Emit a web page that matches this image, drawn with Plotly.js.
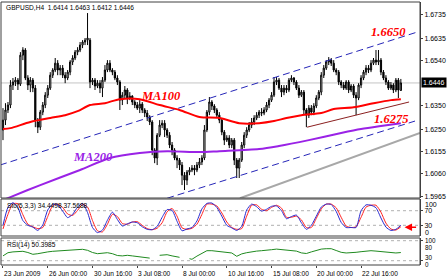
<!DOCTYPE html>
<html><head><meta charset="utf-8">
<script src="https://cdn.plot.ly/plotly-3.0.1.min.js"></script>
<style>html,body{margin:0;padding:0;background:#fff}#chart{width:448px;height:280px}</style>
</head><body><div id="chart"></div>
<script>
// ---------- DATA ----------
const barOpen=[1.6246,1.6288,1.6331,1.6352,1.6437,1.6450,1.6458,1.6441,1.6564,1.6586,
1.6467,1.6437,1.6458,1.6424,1.6280,1.6258,1.6322,1.6352,1.6394,1.6424,
1.6479,1.6501,1.6530,1.6501,1.6509,1.6479,1.6467,1.6492,1.6535,1.6552,
1.6577,1.6586,1.6607,1.6620,1.6628,1.6628,1.6450,1.6458,1.6433,1.6445,
1.6424,1.6458,1.6501,1.6530,1.6501,1.6492,1.6467,1.6450,1.6373,1.6394,
1.6416,1.6382,1.6390,1.6365,1.6352,1.6339,1.6356,1.6331,1.6318,1.6301,
1.6280,1.6161,1.6127,1.6224,1.6267,1.6275,1.6246,1.6224,1.6182,1.6161,
1.6127,1.6118,1.6097,1.6054,1.6033,1.6067,1.6076,1.6084,1.6076,1.6097,
1.6110,1.6127,1.6246,1.6322,1.6365,1.6348,1.6331,1.6309,1.6288,1.6237,
1.6203,1.6212,1.6182,1.6203,1.6118,1.6084,1.6118,1.6182,1.6224,1.6246,
1.6267,1.6280,1.6297,1.6309,1.6322,1.6318,1.6331,1.6352,1.6373,1.6394,
1.6450,1.6458,1.6424,1.6407,1.6424,1.6416,1.6458,1.6467,1.6450,1.6424,
1.6394,1.6407,1.6331,1.6309,1.6339,1.6322,1.6348,1.6382,1.6407,1.6479,
1.6509,1.6535,1.6543,1.6530,1.6501,1.6492,1.6450,1.6437,1.6424,1.6450,
1.6416,1.6433,1.6394,1.6382,1.6437,1.6467,1.6492,1.6509,1.6501,1.6530,
1.6543,1.6535,1.6543,1.6492,1.6467,1.6450,1.6424,1.6437,1.6416,1.6458,
1.6414];
const barClose=[1.6288,1.6331,1.6352,1.6437,1.6450,1.6458,1.6441,1.6564,1.6586,1.6467,
1.6437,1.6458,1.6424,1.6288,1.6258,1.6322,1.6352,1.6394,1.6424,1.6479,
1.6501,1.6530,1.6501,1.6509,1.6479,1.6467,1.6492,1.6535,1.6552,1.6577,
1.6586,1.6607,1.6620,1.6628,1.6637,1.6450,1.6458,1.6433,1.6445,1.6424,
1.6458,1.6501,1.6530,1.6501,1.6492,1.6467,1.6450,1.6373,1.6394,1.6416,
1.6382,1.6390,1.6365,1.6352,1.6339,1.6356,1.6331,1.6318,1.6301,1.6280,
1.6161,1.6127,1.6224,1.6267,1.6275,1.6246,1.6224,1.6182,1.6161,1.6127,
1.6118,1.6097,1.6054,1.6033,1.6067,1.6076,1.6084,1.6076,1.6097,1.6110,
1.6127,1.6246,1.6322,1.6365,1.6348,1.6331,1.6309,1.6288,1.6237,1.6203,
1.6212,1.6182,1.6203,1.6118,1.6084,1.6118,1.6182,1.6224,1.6246,1.6267,
1.6280,1.6297,1.6309,1.6322,1.6318,1.6331,1.6352,1.6373,1.6394,1.6450,
1.6458,1.6424,1.6407,1.6424,1.6416,1.6458,1.6467,1.6450,1.6424,1.6394,
1.6407,1.6331,1.6309,1.6339,1.6322,1.6348,1.6382,1.6407,1.6479,1.6509,
1.6535,1.6543,1.6530,1.6501,1.6492,1.6450,1.6437,1.6424,1.6450,1.6416,
1.6433,1.6394,1.6382,1.6437,1.6467,1.6492,1.6509,1.6501,1.6530,1.6543,
1.6535,1.6543,1.6492,1.6467,1.6450,1.6424,1.6437,1.6416,1.6458,1.6416,
1.6446];
const barHigh=[1.6339,1.6360,1.6365,1.6458,1.6467,1.6471,1.6467,1.6577,1.6598,1.6594,
1.6479,1.6471,1.6467,1.6437,1.6297,1.6331,1.6365,1.6407,1.6437,1.6492,
1.6509,1.6552,1.6543,1.6522,1.6522,1.6492,1.6501,1.6543,1.6564,1.6586,
1.6598,1.6620,1.6628,1.6637,1.6743,1.6637,1.6467,1.6467,1.6458,1.6458,
1.6471,1.6522,1.6543,1.6543,1.6509,1.6501,1.6479,1.6458,1.6407,1.6433,
1.6424,1.6407,1.6394,1.6373,1.6365,1.6373,1.6365,1.6339,1.6331,1.6309,
1.6288,1.6169,1.6233,1.6288,1.6288,1.6288,1.6254,1.6237,1.6195,1.6169,
1.6139,1.6127,1.6110,1.6067,1.6076,1.6088,1.6097,1.6097,1.6110,1.6127,
1.6139,1.6267,1.6331,1.6386,1.6373,1.6356,1.6339,1.6322,1.6297,1.6246,
1.6224,1.6224,1.6212,1.6212,1.6127,1.6127,1.6195,1.6237,1.6258,1.6280,
1.6297,1.6309,1.6322,1.6331,1.6339,1.6343,1.6365,1.6382,1.6407,1.6471,
1.6471,1.6467,1.6437,1.6437,1.6437,1.6467,1.6479,1.6471,1.6458,1.6437,
1.6416,1.6416,1.6339,1.6352,1.6352,1.6360,1.6394,1.6416,1.6492,1.6522,
1.6543,1.6556,1.6552,1.6543,1.6509,1.6501,1.6458,1.6450,1.6458,1.6458,
1.6441,1.6441,1.6407,1.6445,1.6479,1.6501,1.6522,1.6522,1.6543,1.6552,
1.6586,1.6586,1.6552,1.6501,1.6479,1.6458,1.6450,1.6445,1.6467,1.6467,
1.6463];
const barLow=[1.6203,1.6267,1.6318,1.6339,1.6416,1.6433,1.6416,1.6433,1.6543,1.6458,
1.6416,1.6407,1.6407,1.6258,1.6233,1.6246,1.6309,1.6339,1.6382,1.6416,
1.6467,1.6492,1.6479,1.6479,1.6467,1.6445,1.6458,1.6479,1.6522,1.6543,
1.6564,1.6577,1.6594,1.6607,1.6607,1.6424,1.6437,1.6416,1.6424,1.6403,
1.6386,1.6450,1.6492,1.6492,1.6479,1.6458,1.6437,1.6331,1.6352,1.6382,
1.6356,1.6373,1.6352,1.6339,1.6331,1.6318,1.6318,1.6301,1.6284,1.6267,
1.6139,1.6105,1.6097,1.6216,1.6254,1.6216,1.6212,1.6169,1.6139,1.6118,
1.6084,1.6076,1.6012,1.5991,1.6012,1.6054,1.6067,1.6054,1.6067,1.6084,
1.6097,1.6118,1.6237,1.6309,1.6331,1.6318,1.6297,1.6275,1.6224,1.6182,
1.6195,1.6169,1.6169,1.6097,1.6042,1.6042,1.6110,1.6169,1.6212,1.6237,
1.6254,1.6267,1.6288,1.6297,1.6305,1.6309,1.6322,1.6339,1.6365,1.6386,
1.6437,1.6416,1.6386,1.6394,1.6403,1.6407,1.6450,1.6437,1.6416,1.6382,
1.6386,1.6309,1.6258,1.6297,1.6309,1.6309,1.6339,1.6373,1.6394,1.6467,
1.6501,1.6522,1.6518,1.6492,1.6479,1.6437,1.6424,1.6416,1.6416,1.6403,
1.6407,1.6382,1.6309,1.6373,1.6424,1.6458,1.6479,1.6488,1.6492,1.6522,
1.6522,1.6522,1.6479,1.6458,1.6437,1.6416,1.6416,1.6403,1.6407,1.6382,
1.6412];

const ma100Bar=[0,3,11,19,25,30,35,41,47,55,63,71,79,87,95,103,109,114,120,128,133,141,149,156,160];
const ma100Val=[1.6250,1.6254,1.6280,1.6297,1.6309,1.6326,1.6352,1.6360,1.6377,1.6377,1.6352,1.6331,1.6301,1.6297,1.6275,1.6275,1.6284,1.6297,1.6309,1.6318,1.6335,1.6343,1.6360,1.6373,1.6377];
const ma200Bar=[0,3,15,31,43,55,66,79,87,103,111,123,136,144,152,160];
const ma200Val=[1.5948,1.5961,1.6012,1.6076,1.6127,1.6148,1.6156,1.6152,1.6156,1.6165,1.6178,1.6203,1.6233,1.6250,1.6263,1.6275];

const stoMain=[30,79,92,78,43,30,25,16,31,72,88,
86,69,51,60,80,90,65,24,10,17,
44,66,46,28,34,39,37,26,19,18,
27,52,73,71,41,15,20,24,42,75,
90,91,79,55,30,23,16,27,72,88,
81,69,74,82,83,70,48,54,58,37,
19,30,55,80,88,87,68,38,24,24,
24,70,86,85,78,50,25,16,19,30];
const stoSignal=[20,60,89,89,59,33,26,21,24,54,84,
88,79,61,57,71,87,80,43,15,12,
33,60,54,35,33,39,40,30,21,18,
22,37,67,76,55,23,19,22,33,60,
88,88,83,64,39,24,19,21,55,85,
86,74,70,79,85,77,52,52,55,45,
24,24,49,75,88,88,78,52,28,24,
26,52,80,85,85,66,36,20,17,26];

const rsiBar=[0,2,4,6,8,10,12,14,16,18,20,22,24,26,28,30,32,34,36,38,40,42,44,46,48,50,52,54,56,58,59,61,63,64,66,68,70,71,73,75,76,78,80,82,84,86,88,90,92,94,96,98,100,102,104,106,108,110,112,114,116,118,120,122,124,126,128,130,132,134,136,138,140,142,144,146,148,150,152,154,156,158,160];
const rsiVal=[42,50,52,52.5,53.5,50.5,46,47.5,50.5,52,53.5,54.5,55.5,56,57.5,58.8,58.5,56,50.5,47.5,48.5,50,47.5,43,42,43.5,42,40.5,38.5,36.8,36.5,null,43.5,44,45,42,39.5,38.5,null,35,33.5,41.5,48,55,55,54,52,50.5,49.3,41,47,50,52.5,54,55,55.5,57.5,59,57.6,56.5,55.5,54,49.5,48,52,56,59,60,60,55.5,51,49.3,49.3,51,52.5,53.7,55,54,53,51.7,49.7,49.3,50.4];

const dateTickBar=[0,18,36,54,72,90,108,126,144];
const dateTickText=["23 Jun 2009","26 Jun 00:00","30 Jun 16:00","3 Jul 08:00","8 Jul 00:00","10 Jul 16:00","15 Jul 08:00","20 Jul 00:00","22 Jul 16:00"];
const priceTicks=[1.6735,1.6635,1.6540,1.6350,1.6250,1.6155,1.6060,1.5965];
const lastPrice=1.6446;
const headerText="GBPUSD,H4  1.6414 1.6463 1.6412 1.6446";
const stoText="Sto(5,3,3) 34.4498 37.5688";
const rsiText="RSI(14) 50.3985";
// trend lines: [barStart, priceStart, barEnd, priceEnd]
const channelUpper=[-1.2,1.6097,166.5,1.6662];
const channelLower=[66,1.5956,165.7,1.6284];
const grayTrend=[95.3,1.5956,167.7,1.6233];
const brownTrend=[122.3,1.6258,163.3,1.6365];
const levelUpper=1.6650, levelLower=1.6275;

// ---------- LAYOUT HELPERS ----------
const W=448,H=280,ML=1,MR=28,MT=2,MB=15;
const PW=W-ML-MR, PH=H-MT-MB;
const px=x=>(x-ML)/PW;
const py=y=>(H-MB-y)/PH;
const barIdx=barOpen.map((_,i)=>i);
const stoBar=stoMain.map((_,i)=>i*2);

const F="Liberation Sans, Arial, sans-serif";
const traces=[
 {type:'candlestick',x:barIdx,open:barOpen,high:barHigh,low:barLow,close:barClose,
  xaxis:'x',yaxis:'y',whiskerwidth:0,hoverinfo:'skip',
  increasing:{line:{color:'#000',width:1},fillcolor:'#ffffff'},
  decreasing:{line:{color:'#000',width:1},fillcolor:'#000000'}},
 {type:'scatter',mode:'lines',x:ma100Bar,y:ma100Val,xaxis:'x',yaxis:'y',line:{color:'#ff0000',width:2,shape:'spline',smoothing:0.8},hoverinfo:'skip'},
 {type:'scatter',mode:'lines',x:ma200Bar,y:ma200Val,xaxis:'x',yaxis:'y',line:{color:'#9a22e6',width:2,shape:'spline',smoothing:0.8},hoverinfo:'skip'},
 {type:'scatter',mode:'lines',x:stoBar,y:stoSignal,xaxis:'x',yaxis:'y2',line:{color:'#ff2020',width:1,shape:'spline',smoothing:0.6},hoverinfo:'skip'},
 {type:'scatter',mode:'lines',x:stoBar,y:stoMain,xaxis:'x',yaxis:'y2',line:{color:'#2a2ad0',width:1,shape:'spline',smoothing:0.6},hoverinfo:'skip'},
 {type:'scatter',mode:'lines',x:rsiBar,y:rsiVal,xaxis:'x',yaxis:'y3',connectgaps:false,line:{color:'#1f8a1f',width:1},hoverinfo:'skip'}
];

const lineShape=(arr,color,dash,width)=>({type:'line',xref:'x',yref:'y',x0:arr[0],y0:arr[1],x1:arr[2],y1:arr[3],line:{color:color,width:width,dash:dash}});
const shapes=[
 {type:'line',xref:'paper',yref:'y',x0:0,x1:1,y0:lastPrice,y1:lastPrice,line:{color:'#c4c4c4',width:1},layer:'below'},
 lineShape(channelUpper,'#2626b8','7px,4px',1),
 lineShape(channelLower,'#2626b8','7px,4px',1),
 lineShape(grayTrend,'#a8a8a8','solid',2),
 lineShape(brownTrend,'#8b2020','solid',1),
 {type:'line',xref:'paper',yref:'y2',x0:0,x1:1,y0:70,y1:70,line:{color:'#b0b0b0',width:1,dash:'dot'},layer:'below'},
 {type:'line',xref:'paper',yref:'y2',x0:0,x1:1,y0:30,y1:30,line:{color:'#b0b0b0',width:1,dash:'dot'},layer:'below'},
 {type:'line',xref:'paper',yref:'y3',x0:0,x1:1,y0:80,y1:80,line:{color:'#b0b0b0',width:1,dash:'dot'},layer:'below'},
 {type:'line',xref:'paper',yref:'y3',x0:0,x1:1,y0:30,y1:30,line:{color:'#b0b0b0',width:1,dash:'dot'},layer:'below'},
 {type:'rect',xref:'paper',yref:'paper',x0:0,x1:1,y0:py(198),y1:py(2),line:{color:'#404040',width:1}},
 {type:'rect',xref:'paper',yref:'paper',x0:0,x1:1,y0:py(236),y1:py(199),line:{color:'#404040',width:1}},
 {type:'rect',xref:'paper',yref:'paper',x0:0,x1:1,y0:py(265),y1:py(238),line:{color:'#404040',width:1}}
];

const txt=(text,x,y,opts)=>Object.assign({text:text,x:x,y:y,xref:'paper',yref:'paper',showarrow:false,xanchor:'left',yanchor:'middle',font:{family:F,size:6.6,color:'#000'}},opts||{});
const serif={family:'Liberation Serif, Times New Roman, serif',size:12.5,style:'italic',weight:'bold'};
const small={font:{family:F,size:6.3,color:'#000'}};
const annotations=[
 txt(headerText,px(4),py(7.7)),
 txt(stoText,px(5),py(206.3)),
 txt(rsiText,px(5),py(244.7)),
 ...dateTickBar.map((b,k)=>txt(dateTickText[k],b,py(273.3),{xref:'x',xshift:-1})),
 {text:lastPrice.toFixed(4),x:px(421.5),y:lastPrice,xref:'paper',yref:'y',showarrow:false,xanchor:'left',yanchor:'middle',bgcolor:'#000',borderpad:1,font:{family:F,size:7,color:'#fff'}},
 txt('100',px(423),py(204),{font:{family:F,size:7,color:'#000'}}),
 txt('0',px(423),py(232),{font:{family:F,size:7,color:'#000'}}),
 txt('100',px(423),py(240.3),small),
 txt('80',px(423),py(247.6),small),
 txt('30',px(423),py(257.2),small),
 txt('0',px(423),py(264.4),small),
 {text:levelUpper.toFixed(4),x:px(388),y:py(32),xref:'paper',yref:'paper',showarrow:false,xanchor:'center',yanchor:'middle',font:Object.assign({},serif,{color:'#ff0000'})},
 {text:levelLower.toFixed(4),x:px(391),y:py(119),xref:'paper',yref:'paper',showarrow:false,xanchor:'center',yanchor:'middle',font:Object.assign({},serif,{color:'#ff0000'})},
 {text:'MA100',x:px(161),y:py(96),xref:'paper',yref:'paper',showarrow:false,xanchor:'center',yanchor:'middle',font:Object.assign({},serif,{color:'#ff0000'})},
 {text:'MA200',x:px(93),y:py(157),xref:'paper',yref:'paper',showarrow:false,xanchor:'center',yanchor:'middle',font:Object.assign({},serif,{color:'#9a22e6'})},
 {text:'',x:161.5,y:24.5,xref:'x',yref:'y2',showarrow:true,ax:13,ay:0,arrowhead:2,arrowsize:1,arrowwidth:1.5,arrowcolor:'#ff0000'}
];

const yCommon={side:'right',anchor:'x',showgrid:false,zeroline:false,showline:true,linecolor:'#404040',linewidth:1,
  ticks:'outside',ticklen:2,tickcolor:'#404040',tickfont:{family:F,size:7,color:'#000'},fixedrange:true};
const layout={
 width:W,height:H,margin:{l:ML,r:MR,t:MT,b:MB},paper_bgcolor:'#fff',plot_bgcolor:'#fff',showlegend:false,
 xaxis:{range:[-0.8,167.7],showgrid:false,zeroline:false,showline:false,anchor:'y3',
   tickvals:dateTickBar,showticklabels:false,ticks:'outside',ticklen:2,tickcolor:'#404040',rangeslider:{visible:false},fixedrange:true},
 yaxis:Object.assign({},yCommon,{domain:[py(198),py(2)],range:[1.5957,1.6790],tickvals:priceTicks,ticktext:priceTicks.map(v=>v.toFixed(4))}),
 yaxis2:Object.assign({},yCommon,{domain:[py(236),py(199)],range:[0.7,102.1],tickvals:[70,30],ticktext:['70','30']}),
 yaxis3:Object.assign({},yCommon,{domain:[py(265),py(238)],range:[19.25,86.75],tickvals:[80,30],showticklabels:false}),
 shapes:shapes,annotations:annotations
};
Plotly.newPlot('chart',traces,layout,{staticPlot:true,displayModeBar:false});
</script></body></html>
